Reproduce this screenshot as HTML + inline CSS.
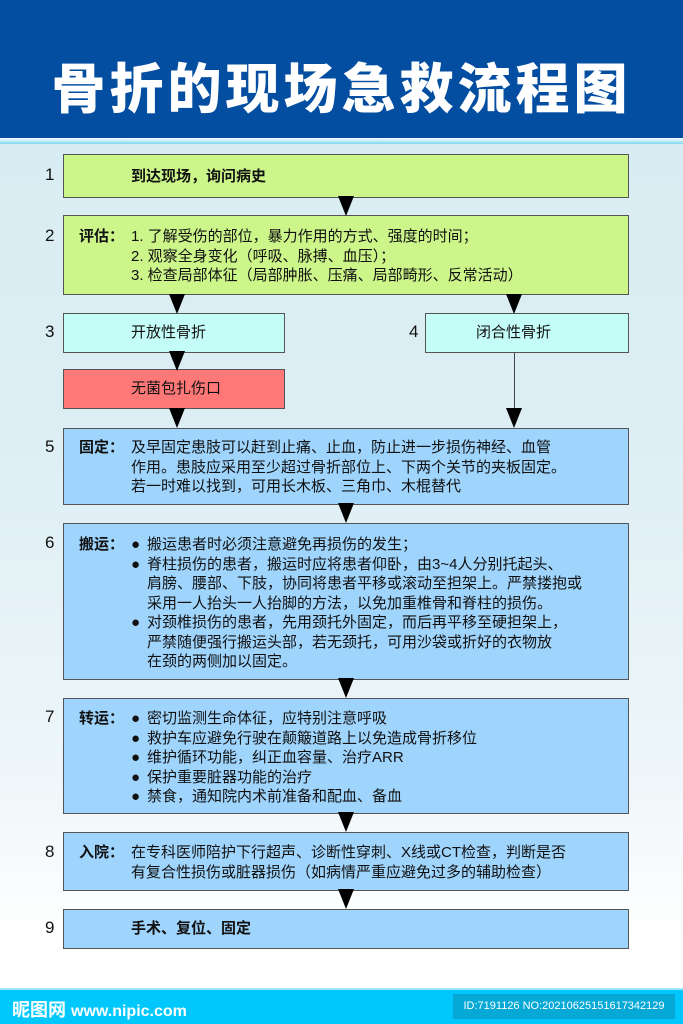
<!DOCTYPE html>
<html><head><meta charset="utf-8"><style>
*{margin:0;padding:0;box-sizing:border-box}
body{width:683px;height:1024px;position:relative;overflow:hidden;font-family:"Liberation Sans","Noto Sans CJK SC",sans-serif;background:linear-gradient(180deg,#d6ecf2 0%,#dceef4 40%,#eef6f9 75%,#ffffff 92%);}
.hdr{position:absolute;left:0;top:0;width:683px;height:138px;background:#034ea1;}
.hdr h1{position:absolute;left:0;width:683px;top:50px;text-align:center;color:#fff;font-size:54px;font-weight:900;letter-spacing:4px;line-height:70px;font-family:"Noto Sans CJK SC",sans-serif;}
.strip{position:absolute;left:0;top:138px;width:683px;height:6px;background:linear-gradient(#fff,#7fd8f5);}
.box{position:absolute;border:1.5px solid #555;}
.g{background:#ccf58a}.c{background:#c4fcf7}.r{background:#ff7878}.b{background:#9fd4fd}
.num{position:absolute;left:45px;font-size:17px;color:#111}
.t{position:absolute;font-size:15px;line-height:19.5px;color:#111;white-space:nowrap}
.lb{font-weight:bold}
.L{display:inline-block;width:52px;font-weight:bold}
.I{display:inline-block;width:52px}
.B{display:inline-block;width:16px}
.ln{position:absolute;width:1px;background:#444}
.ar{position:absolute;width:0;height:0;border-left:8px solid transparent;border-right:8px solid transparent;border-top:20px solid #000}
.foot{position:absolute;left:0;top:988px;width:683px;height:36px;background:#00c8fc;border-top:2px solid #9fe6fb}
</style></head><body>
<div class="hdr"><h1>骨折的现场急救流程图</h1></div>
<div class="strip"></div>

<div class="box g" style="left:63px;top:154px;width:566px;height:44px"></div>
<div class="num" style="top:165px">1</div>
<div class="t lb" style="left:131px;top:167px">到达现场，询问病史</div>

<div class="box g" style="left:63px;top:215px;width:566px;height:80px"></div>
<div class="num" style="top:226px">2</div>
<div class="t" style="left:79px;top:227px"><span class="L">评估：</span>1. 了解受伤的部位，暴力作用的方式、强度的时间；<br><span class="I"></span>2. 观察全身变化（呼吸、脉搏、血压）；<br><span class="I"></span>3. 检查局部体征（局部肿胀、压痛、局部畸形、反常活动）</div>

<div class="box c" style="left:63px;top:313px;width:222px;height:40px"></div>
<div class="num" style="top:322px">3</div>
<div class="t" style="left:131px;top:323px">开放性骨折</div>
<div class="box c" style="left:425px;top:313px;width:204px;height:40px"></div>
<div class="num" style="left:409px;top:322px">4</div>
<div class="t" style="left:476px;top:323px">闭合性骨折</div>

<div class="box r" style="left:63px;top:369px;width:222px;height:40px"></div>
<div class="t" style="left:131px;top:379px">无菌包扎伤口</div>

<div class="box b" style="left:63px;top:428px;width:566px;height:77px"></div>
<div class="num" style="top:437px">5</div>
<div class="t" style="left:79px;top:438px"><span class="L">固定：</span>及早固定患肢可以赶到止痛、止血，防止进一步损伤神经、血管<br><span class="I"></span>作用。患肢应采用至少超过骨折部位上、下两个关节的夹板固定。<br><span class="I"></span>若一时难以找到，可用长木板、三角巾、木棍替代</div>

<div class="box b" style="left:63px;top:523px;width:566px;height:157px"></div>
<div class="num" style="top:533px">6</div>
<div class="t" style="left:79px;top:535px"><span class="L">搬运：</span><span class="B">●</span>搬运患者时必须注意避免再损伤的发生；<br>
<span class="I"></span><span class="B">●</span>脊柱损伤的患者，搬运时应将患者仰卧，由3~4人分别托起头、<br>
<span class="I"></span><span class="B"></span>肩膀、腰部、下肢，协同将患者平移或滚动至担架上。严禁搂抱或<br>
<span class="I"></span><span class="B"></span>采用一人抬头一人抬脚的方法，以免加重椎骨和脊柱的损伤。<br>
<span class="I"></span><span class="B">●</span>对颈椎损伤的患者，先用颈托外固定，而后再平移至硬担架上，<br>
<span class="I"></span><span class="B"></span>严禁随便强行搬运头部，若无颈托，可用沙袋或折好的衣物放<br>
<span class="I"></span><span class="B"></span>在颈的两侧加以固定。</div>

<div class="box b" style="left:63px;top:698px;width:566px;height:116px"></div>
<div class="num" style="top:707px">7</div>
<div class="t" style="left:79px;top:709px"><span class="L">转运：</span><span class="B">●</span>密切监测生命体征，应特别注意呼吸<br>
<span class="I"></span><span class="B">●</span>救护车应避免行驶在颠簸道路上以免造成骨折移位<br>
<span class="I"></span><span class="B">●</span>维护循环功能，纠正血容量、治疗ARR<br>
<span class="I"></span><span class="B">●</span>保护重要脏器功能的治疗<br>
<span class="I"></span><span class="B">●</span>禁食，通知院内术前准备和配血、备血</div>

<div class="box b" style="left:63px;top:832px;width:566px;height:59px"></div>
<div class="num" style="top:842px">8</div>
<div class="t" style="left:79px;top:843px"><span class="L">入院：</span>在专科医师陪护下行超声、诊断性穿刺、X线或CT检查，判断是否<br><span class="I"></span>有复合性损伤或脏器损伤（如病情严重应避免过多的辅助检查）</div>

<div class="box b" style="left:63px;top:909px;width:566px;height:40px"></div>
<div class="num" style="top:918px">9</div>
<div class="t lb" style="left:131px;top:919px">手术、复位、固定</div>

<div class="ln" style="left:346px;top:198px;height:8px"></div><div class="ar" style="left:338px;top:196px"></div>
<div class="ln" style="left:177px;top:295px;height:8px"></div><div class="ar" style="left:169px;top:294px"></div>
<div class="ln" style="left:514px;top:295px;height:8px"></div><div class="ar" style="left:506px;top:294px"></div>
<div class="ln" style="left:177px;top:353px;height:6px"></div><div class="ar" style="left:169px;top:351px"></div>
<div class="ln" style="left:177px;top:409px;height:8px"></div><div class="ar" style="left:169px;top:408px"></div>
<div class="ln" style="left:514px;top:353px;height:60px"></div><div class="ar" style="left:506px;top:408px"></div>
<div class="ln" style="left:346px;top:505px;height:8px"></div><div class="ar" style="left:338px;top:503px"></div>
<div class="ln" style="left:346px;top:680px;height:8px"></div><div class="ar" style="left:338px;top:678px"></div>
<div class="ln" style="left:346px;top:814px;height:8px"></div><div class="ar" style="left:338px;top:812px"></div>
<div class="ln" style="left:346px;top:891px;height:8px"></div><div class="ar" style="left:338px;top:889px"></div>

<div class="foot">
<div style="position:absolute;left:12px;top:6px;color:#fff;font-size:18px;font-weight:bold">昵图网 <span style="font-size:16px">www.nipic.com</span></div>
<div style="position:absolute;left:453px;top:4px;width:222px;height:25px;background:#06a8d6;color:#fff;font-size:11px;line-height:25px;text-align:center">ID:7191126 NO:20210625151617342129</div>
</div>
</body></html>
